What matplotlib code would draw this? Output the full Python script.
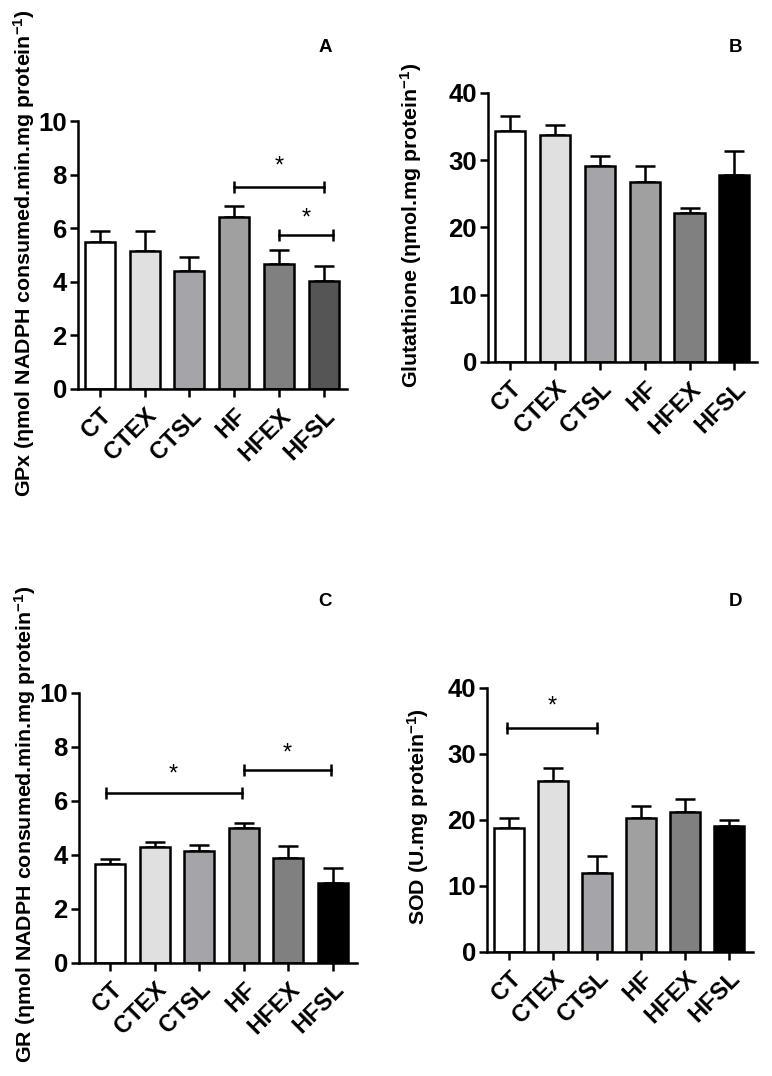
import numpy as np
import matplotlib
matplotlib.use("Agg")
import matplotlib.pyplot as plt

plt.rcParams['font.family'] = ['Liberation Sans', 'DejaVu Sans']
plt.rcParams['font.weight'] = 'bold'
plt.rcParams['mathtext.fontset'] = 'custom'
plt.rcParams['mathtext.rm'] = 'Liberation Sans:bold'
plt.rcParams['mathtext.default'] = 'rm'

groups = ['CT', 'CTEX', 'CTSL', 'HF', 'HFEX', 'HFSL']

gpx_mean = [5.47, 5.16, 4.42, 6.41, 4.66, 4.04]
gpx_sem = [0.41, 0.72, 0.51, 0.43, 0.54, 0.56]

gsh_mean = [34.4, 33.8, 29.1, 26.7, 22.1, 27.8]
gsh_sem = [2.2, 1.5, 1.6, 2.4, 0.8, 3.5]

gr_mean = [3.64, 4.28, 4.14, 4.98, 3.86, 2.96]
gr_sem = [0.21, 0.20, 0.22, 0.21, 0.47, 0.54]

sod_mean = [18.8, 25.8, 12.0, 20.3, 21.1, 19.0]
sod_sem = [1.4, 2.0, 2.5, 1.8, 2.0, 1.0]

colors_a = ['#ffffff', '#e0e0e0', '#a4a4a9', '#a0a0a0', '#808080', '#555555']
colors_bcd = ['#ffffff', '#e0e0e0', '#a4a4a9', '#a0a0a0', '#808080', '#000000']

# (x1, x2, y, star_y)
sig_a = [(3, 5, 7.53, 8.3), (4, 5.2, 5.76, 6.35)]
sig_c = [(-0.1, 2.95, 6.3, 6.95), (3, 4.95, 7.14, 7.75)]
sig_d = [(-0.05, 2.0, 33.9, 37.2)]

fig = plt.figure(figsize=(7.72, 10.76), dpi=100)


def panel(rect, means, sems, colors, ymax, step, xlim, letter, letter_xy, sigs):
    ax = fig.add_axes(rect)
    x = np.arange(len(groups))
    ax.bar(x, means, width=0.67, color=colors, edgecolor='black', linewidth=1.8, zorder=2)
    ax.errorbar(x, means, yerr=[np.zeros(len(sems)), sems], fmt='none', ecolor='black',
                elinewidth=1.8, capsize=7.5, capthick=1.8, zorder=1)
    ax.set_ylim(0, ymax)
    ax.set_xlim(*xlim)
    ax.set_yticks(np.arange(0, ymax + step / 2, step))
    ax.set_xticks(x)
    ax.set_xticklabels(groups, rotation=45, ha='right', rotation_mode='anchor', fontsize=17)
    ax.tick_params(axis='y', labelsize=18.5, length=6, width=1.8, direction='out', pad=2)
    ax.tick_params(axis='x', length=6, width=1.8, direction='out', pad=5)
    for s in ['top', 'right']:
        ax.spines[s].set_visible(False)
    for s in ['left', 'bottom']:
        ax.spines[s].set_linewidth(1.8)
    for x1, x2, y, ys in sigs:
        ax.plot([x1, x2], [y, y], color='black', linewidth=1.8, marker='|',
                markersize=9, markeredgewidth=1.8, zorder=3)
        ax.text((x1 + x2) / 2, ys, '*', ha='center', va='center', fontsize=17,
                fontweight='normal')
    fig.text(letter_xy[0] / 772, 1 - letter_xy[1] / 1076, letter, ha='center', va='center',
             fontsize=13.5, fontweight='bold')
    return ax


panel([0.101, 0.6385, 0.348, 0.249], gpx_mean, gpx_sem, colors_a, 10, 2,
      (-0.49, 5.51), 'A', (325, 48), sig_a)
panel([0.632, 0.6636, 0.349, 0.250], gsh_mean, gsh_sem, colors_bcd, 40, 10,
      (-0.49, 5.51), 'B', (736, 47), [])
panel([0.1023, 0.1053, 0.360, 0.251], gr_mean, gr_sem, colors_bcd, 10, 2,
      (-0.70, 5.54), 'C', (325, 602), sig_c)
panel([0.6308, 0.1155, 0.3446, 0.2454], sod_mean, sod_sem, colors_bcd, 40, 10,
      (-0.50, 5.55), 'D', (736, 601), sig_d)

ylabels = [
    ('GPx (\u03b7mol NADPH consumed.min.mg protein$^{-1}$)', 24, 253),
    ('Glutathione (\u03b7mol.mg protein$^{-1}$)', 411, 225),
    ('GR (\u03b7mol NADPH consumed.min.mg protein$^{-1}$)', 25, 824),
    ('SOD (U.mg protein$^{-1}$)', 418, 817),
]
for txt, px, py in ylabels:
    fig.text(px / 772, 1 - py / 1076, txt, rotation=90, ha='center', va='center',
             fontsize=15.4, fontweight='bold')

fig.savefig('out.png', dpi=100)
